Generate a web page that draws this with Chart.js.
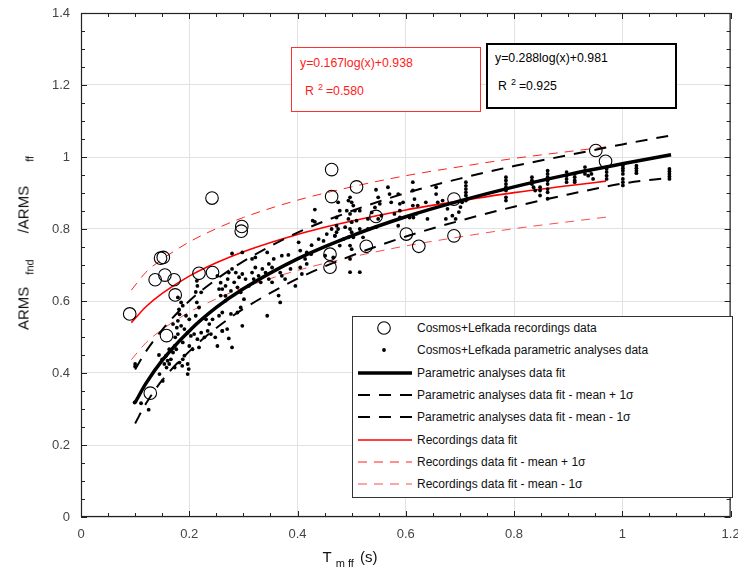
<!DOCTYPE html>
<html>
<head>
<meta charset="utf-8">
<title>ARMS fnd / ARMS ff vs T mff</title>
<script src="https://cdn.jsdelivr.net/npm/chart.js@4.4.0/dist/chart.umd.min.js"></script>
<style>
  body { margin: 0; background: #fff; font-family: "Liberation Sans", Arial, sans-serif; }
  #wrap { position: relative; width: 738px; height: 573px; }
  #chart { position: absolute; left: 0; top: 0; }
  .note { position: absolute; font-size: 12.3px; line-height: 14px; background: #fff; }
  .note div { position: absolute; white-space: nowrap; }
  .note sup { font-size: 9px; vertical-align: 5px; margin: 0 3px 0 4px; }
  #redNote { left: 291px; top: 47px; width: 188px; height: 63px; border: 1px solid #ff3030; color: #ff1a1a; }
  #blackNote { left: 486px; top: 43px; width: 187px; height: 62px; border: 2px solid #000; color: #000; }
  #legend { position: absolute; left: 352px; top: 316px; width: 379px; height: 180px; border: 1px solid #333;
            background: #fff; font-size: 12px; color: #111; }
  #legend .row { position: absolute; left: 0; height: 22px; width: 375px; }
  #legend svg { position: absolute; left: 4px; top: 0; }
  #legend span { position: absolute; left: 64px; top: 4px; white-space: nowrap; }
  .axtitle { position: absolute; white-space: nowrap; font-size: 15px; color: #111; }
  .axtitle sub { font-size: 11px; vertical-align: -5px; }
</style>
</head>
<body>
<div id="wrap">
  <canvas id="chart" width="738" height="573"></canvas>

  <div id="redNote" class="note">
    <div style="left:8px; top:8px;">y=0.167log(x)+0.938</div>
    <div style="left:13px; top:32px;">R<sup>2</sup>=0.580</div>
  </div>
  <div id="blackNote" class="note">
    <div style="left:7px; top:6px;">y=0.288log(x)+0.981</div>
    <div style="left:10px; top:30px;">R<sup>2</sup>=0.925</div>
  </div>

  <div id="legend"></div>

  <div class="axtitle" style="left:25px; top:243px; transform: translate(-50%,-50%) rotate(-90deg);">ARMS<sub style="margin:0 26px 0 12px">fnd</sub>/ARMS<sub style="margin-left:24px">ff</sub></div>
  <div class="axtitle" style="left:350px; top:548px; transform: translateX(-50%);">T<sub style="margin:0 6px 0 4px">m ff</sub>(s)</div>
</div>

<script>
// recordings (open circles): [T mff, ARMS ratio]
const recordings = [
  [0.090, 0.564], [0.128, 0.344], [0.137, 0.659], [0.147, 0.719], [0.152, 0.721],
  [0.155, 0.672], [0.172, 0.659], [0.174, 0.617], [0.158, 0.504], [0.242, 0.886],
  [0.218, 0.677], [0.243, 0.679], [0.297, 0.807], [0.296, 0.794], [0.463, 0.965],
  [0.509, 0.917], [0.463, 0.890], [0.545, 0.835], [0.460, 0.730], [0.460, 0.694],
  [0.527, 0.752], [0.601, 0.786], [0.624, 0.752], [0.689, 0.883], [0.689, 0.781],
  [0.951, 1.018], [0.969, 0.988]
];

// parametric analyses (small dots): [T mff, ARMS ratio]
const parametric = [
  [0.100, 0.425], [0.100, 0.418], [0.099, 0.318], [0.111, 0.316], [0.125, 0.298],
  [0.144, 0.450], [0.150, 0.438], [0.157, 0.448], [0.160, 0.434], [0.163, 0.425],
  [0.154, 0.425], [0.158, 0.415], [0.166, 0.438], [0.170, 0.457], [0.163, 0.466],
  [0.173, 0.475], [0.176, 0.466], [0.182, 0.429], [0.188, 0.438], [0.191, 0.448],
  [0.197, 0.425], [0.199, 0.411], [0.197, 0.397], [0.187, 0.420], [0.173, 0.415],
  [0.174, 0.499], [0.179, 0.508], [0.177, 0.526], [0.170, 0.536], [0.179, 0.545],
  [0.185, 0.531], [0.191, 0.522], [0.197, 0.512], [0.203, 0.503], [0.209, 0.508],
  [0.215, 0.494], [0.222, 0.512], [0.228, 0.499], [0.234, 0.517], [0.240, 0.508],
  [0.248, 0.499], [0.252, 0.475], [0.200, 0.475], [0.206, 0.466], [0.218, 0.471],
  [0.188, 0.485], [0.182, 0.563], [0.181, 0.577], [0.185, 0.596], [0.179, 0.610],
  [0.188, 0.587], [0.194, 0.559], [0.200, 0.549], [0.212, 0.559], [0.218, 0.582],
  [0.214, 0.596], [0.212, 0.625], [0.222, 0.624], [0.215, 0.642], [0.214, 0.656],
  [0.231, 0.549], [0.237, 0.536], [0.243, 0.549], [0.255, 0.559], [0.261, 0.517],
  [0.255, 0.633], [0.258, 0.651], [0.267, 0.614], [0.271, 0.661], [0.252, 0.670],
  [0.145, 0.397], [0.151, 0.378],
  [0.432, 0.854], [0.428, 0.823], [0.432, 0.820], [0.279, 0.732], [0.298, 0.735],
  [0.316, 0.717], [0.322, 0.721], [0.344, 0.735], [0.356, 0.717], [0.371, 0.726],
  [0.383, 0.728], [0.402, 0.763], [0.405, 0.740], [0.417, 0.735], [0.426, 0.755],
  [0.439, 0.772], [0.448, 0.767], [0.454, 0.786], [0.472, 0.791], [0.405, 0.693],
  [0.414, 0.717], [0.417, 0.703], [0.408, 0.675], [0.396, 0.642], [0.368, 0.679],
  [0.371, 0.670], [0.365, 0.615], [0.368, 0.596], [0.344, 0.559], [0.347, 0.661],
  [0.353, 0.652], [0.335, 0.689], [0.328, 0.670], [0.332, 0.652], [0.316, 0.679],
  [0.319, 0.661], [0.310, 0.642], [0.304, 0.661], [0.298, 0.675], [0.292, 0.666],
  [0.286, 0.679], [0.279, 0.689], [0.273, 0.679], [0.283, 0.652], [0.289, 0.638],
  [0.295, 0.624], [0.301, 0.605], [0.277, 0.628], [0.267, 0.642], [0.261, 0.633],
  [0.258, 0.615], [0.267, 0.601], [0.261, 0.568], [0.277, 0.564], [0.289, 0.568],
  [0.295, 0.582], [0.298, 0.531], [0.270, 0.522], [0.261, 0.517], [0.273, 0.496],
  [0.279, 0.471], [0.341, 0.679], [0.347, 0.703], [0.353, 0.693], [0.322, 0.693],
  [0.387, 0.689], [0.377, 0.661], [0.451, 0.726], [0.466, 0.721], [0.469, 0.781],
  [0.425, 0.730],
  [0.497, 0.888], [0.494, 0.879], [0.500, 0.874], [0.503, 0.865], [0.491, 0.851],
  [0.497, 0.842], [0.506, 0.851], [0.515, 0.851], [0.494, 0.828], [0.500, 0.819],
  [0.488, 0.805], [0.472, 0.809], [0.475, 0.800], [0.497, 0.800], [0.500, 0.791],
  [0.503, 0.777], [0.494, 0.777], [0.485, 0.772], [0.478, 0.754], [0.497, 0.754],
  [0.500, 0.744], [0.509, 0.823], [0.497, 0.717], [0.497, 0.680], [0.515, 0.680],
  [0.545, 0.909], [0.549, 0.888], [0.552, 0.870], [0.543, 0.860], [0.537, 0.846],
  [0.530, 0.828], [0.549, 0.828], [0.555, 0.837], [0.530, 0.800], [0.545, 0.805],
  [0.567, 0.916], [0.570, 0.897], [0.573, 0.874], [0.586, 0.897], [0.589, 0.870],
  [0.595, 0.874], [0.589, 0.851], [0.579, 0.842], [0.589, 0.832], [0.607, 0.832],
  [0.613, 0.930], [0.613, 0.907], [0.616, 0.883], [0.613, 0.865], [0.622, 0.865],
  [0.619, 0.842], [0.614, 0.832], [0.586, 0.809], [0.637, 0.874], [0.640, 0.828],
  [0.656, 0.916], [0.656, 0.897], [0.659, 0.874], [0.668, 0.879], [0.674, 0.828],
  [0.677, 0.856], [0.686, 0.837], [0.692, 0.828], [0.475, 0.874], [0.478, 0.851],
  [0.472, 0.832], [0.463, 0.800], [0.469, 0.781], [0.515, 0.800], [0.521, 0.777],
  [0.711, 0.930], [0.711, 0.920], [0.711, 0.911], [0.711, 0.902], [0.711, 0.893],
  [0.711, 0.879], [0.704, 0.874], [0.701, 0.861], [0.698, 0.847], [0.714, 0.884],
  [0.785, 0.944], [0.785, 0.935], [0.785, 0.925], [0.785, 0.916], [0.785, 0.907],
  [0.785, 0.888], [0.785, 0.879],
  [0.833, 0.944], [0.833, 0.935], [0.833, 0.930], [0.833, 0.925], [0.836, 0.916],
  [0.839, 0.907], [0.848, 0.916], [0.848, 0.907], [0.848, 0.893],
  [0.862, 0.962], [0.862, 0.953], [0.862, 0.944], [0.862, 0.935], [0.862, 0.925],
  [0.862, 0.911], [0.862, 0.902], [0.862, 0.884],
  [0.897, 0.958], [0.897, 0.948], [0.897, 0.939], [0.897, 0.930],
  [0.912, 0.953], [0.912, 0.944], [0.912, 0.935], [0.912, 0.930],
  [0.931, 0.972], [0.931, 0.962], [0.931, 0.953],
  [0.940, 0.962], [0.943, 0.953], [0.946, 0.939], [0.937, 0.948],
  [0.971, 0.967], [0.971, 0.958], [0.971, 0.948], [0.971, 0.939],
  [1.001, 0.976], [1.001, 0.969], [1.001, 0.962], [1.001, 0.953], [1.001, 0.939],
  [1.001, 0.930], [1.001, 0.921],
  [1.026, 0.976], [1.026, 0.969], [1.026, 0.962], [1.026, 0.955],
  [1.087, 0.967], [1.087, 0.960], [1.087, 0.953], [1.087, 0.946], [1.087, 0.939]
];

// parametric fit curves, read at these periods
const parT    = [0.10, 0.12, 0.15, 0.20, 0.25, 0.30, 0.40, 0.50, 0.60, 0.70, 0.80, 0.90, 1.00, 1.09];
const parFit  = [0.318, 0.371, 0.435, 0.517, 0.582, 0.634, 0.717, 0.781, 0.834, 0.878, 0.917, 0.951, 0.981, 1.006];
const parUp   = [0.410, 0.460, 0.520, 0.600, 0.660, 0.710, 0.790, 0.850, 0.900, 0.940, 0.975, 1.005, 1.035, 1.060];
const parLow  = [0.260, 0.315, 0.380, 0.460, 0.525, 0.578, 0.662, 0.726, 0.779, 0.823, 0.862, 0.896, 0.926, 0.943];

// recordings fit curves
const recT    = [0.093, 0.12, 0.15, 0.20, 0.25, 0.30, 0.40, 0.50, 0.60, 0.70, 0.80, 0.90, 0.97];
const recFit  = [0.540, 0.584, 0.621, 0.669, 0.706, 0.737, 0.785, 0.822, 0.853, 0.878, 0.901, 0.920, 0.933];
const recUp   = [0.630, 0.680, 0.716, 0.764, 0.801, 0.832, 0.880, 0.917, 0.948, 0.973, 0.996, 1.015, 1.028];
const recLow  = [0.437, 0.484, 0.521, 0.569, 0.606, 0.637, 0.685, 0.722, 0.753, 0.778, 0.801, 0.820, 0.833];

const xTicks = [0, 0.2, 0.4, 0.6, 0.8, 1, 1.2];
const yTicks = [0, 0.2, 0.4, 0.6, 0.8, 1, 1.2, 1.4];

function pts(arr) { return arr.map(p => ({ x: p[0], y: p[1] })); }
function curve(t, v) { return t.map((x, i) => ({ x: x, y: v[i] })); }

function lineSet(label, t, v, color, width, dash, order) {
  return {
    label: label, data: curve(t, v), showLine: true, borderColor: color, borderWidth: width,
    borderDash: dash, pointRadius: 0, fill: false, cubicInterpolationMode: 'monotone', order: order
  };
}

// frame + inward ticks on all four sides
const frameTicks = {
  id: 'frameTicks',
  afterDraw(chart) {
    const ctx = chart.ctx, a = chart.chartArea;
    const sx = chart.scales.x, sy = chart.scales.y;
    ctx.save();
    ctx.strokeStyle = '#222';
    ctx.lineWidth = 1;
    ctx.beginPath();
    for (let i = 0; i <= 24; i++) {
      const px = Math.round(sx.getPixelForValue(i * 0.05)) + 0.5;
      const len = i % 4 === 0 ? 6 : 4;
      ctx.moveTo(px, a.bottom); ctx.lineTo(px, a.bottom - len);
      ctx.moveTo(px, a.top); ctx.lineTo(px, a.top + len);
    }
    for (let i = 0; i <= 28; i++) {
      const py = Math.round(sy.getPixelForValue(i * 0.05)) + 0.5;
      const len = i % 4 === 0 ? 6 : 4;
      ctx.moveTo(a.left, py); ctx.lineTo(a.left + len, py);
      ctx.moveTo(a.right, py); ctx.lineTo(a.right - len, py);
    }
    ctx.stroke();
    ctx.lineWidth = 1.2;
    ctx.strokeRect(a.left + 0.5, a.top + 0.5, a.right - a.left - 1, a.bottom - a.top - 1);
    ctx.restore();
  }
};

const chart = new Chart(document.getElementById('chart'), {
  type: 'scatter',
  data: {
    datasets: [
      { label: 'Cosmos+Lefkada recordings data', data: pts(recordings), pointRadius: 6.3, pointBorderWidth: 1.1,
        borderColor: '#000', backgroundColor: 'rgba(0,0,0,0)', pointStyle: 'circle', order: 0 },
      { label: 'Cosmos+Lefkada parametric analyses data', data: pts(parametric), pointRadius: 1.9, pointBorderWidth: 0,
        borderColor: '#000', backgroundColor: '#000', order: 1 },
      lineSet('Parametric analyses data fit', parT, parFit, '#000', 3.5, [], 2),
      lineSet('Parametric analyses data fit - mean + 1\u03c3', parT, parUp, '#000', 2, [12, 9], 3),
      lineSet('Parametric analyses data fit - mean - 1\u03c3', parT, parLow, '#000', 2, [12, 9], 4),
      lineSet('Recordings data fit', recT, recFit, '#ff0000', 1.6, [], 5),
      lineSet('Recordings data fit - mean + 1\u03c3', recT, recUp, '#ff2020', 1, [9, 7], 6),
      lineSet('Recordings data fit - mean - 1\u03c3', recT, recLow, '#ff4a4a', 1, [9, 7], 7)
    ]
  },
  options: {
    responsive: false,
    animation: false,
    layout: { padding: { top: 13, right: 3, left: 0, bottom: 0 } },
    plugins: { legend: { display: false }, tooltip: { enabled: false } },
    scales: {
      x: {
        type: 'linear', min: 0, max: 1.2,
        afterBuildTicks: s => { s.ticks = xTicks.map(v => ({ value: v })); },
        afterFit: s => { s.height = 56; s.paddingLeft = 0; s.paddingRight = 0; },
        grid: { color: '#e2e2e2', lineWidth: 1, drawTicks: false },
        border: { display: false },
        ticks: { padding: 10, color: '#444', font: { family: 'Liberation Sans', size: 13 },
                 callback: v => String(+v.toFixed(1)) }
      },
      y: {
        type: 'linear', min: 0, max: 1.4,
        afterBuildTicks: s => { s.ticks = yTicks.map(v => ({ value: v })); },
        afterFit: s => { s.width = 81; s.paddingTop = 0; s.paddingBottom = 0; },
        grid: { color: '#e2e2e2', lineWidth: 1, drawTicks: false },
        border: { display: false },
        ticks: { padding: 11, color: '#444', font: { family: 'Liberation Sans', size: 13 },
                 callback: v => String(+v.toFixed(1)) }
      }
    }
  },
  plugins: [frameTicks]
});

// legend drawn in html from the dataset styles
const legend = document.getElementById('legend');
const NS = 'http://www.w3.org/2000/svg';
chart.data.datasets.forEach((ds, i) => {
  const row = document.createElement('div');
  row.className = 'row';
  row.style.top = (i * 22.3) + 'px';
  const svg = document.createElementNS(NS, 'svg');
  svg.setAttribute('width', '56'); svg.setAttribute('height', '22');
  if (ds.showLine) {
    const ln = document.createElementNS(NS, 'line');
    ln.setAttribute('x1', '1'); ln.setAttribute('x2', '55');
    ln.setAttribute('y1', '11'); ln.setAttribute('y2', '11');
    ln.setAttribute('stroke', ds.borderColor);
    ln.setAttribute('stroke-width', ds.borderWidth);
    if (ds.borderDash.length) ln.setAttribute('stroke-dasharray', ds.borderDash.join(' '));
    svg.appendChild(ln);
  } else {
    const c = document.createElementNS(NS, 'circle');
    c.setAttribute('cx', '27'); c.setAttribute('cy', '11');
    c.setAttribute('r', ds.pointRadius);
    c.setAttribute('fill', ds.backgroundColor);
    c.setAttribute('stroke', ds.borderColor);
    c.setAttribute('stroke-width', ds.pointBorderWidth || 0);
    svg.appendChild(c);
  }
  const txt = document.createElement('span');
  txt.textContent = ds.label;
  row.appendChild(svg);
  row.appendChild(txt);
  legend.appendChild(row);
});
</script>
</body>
</html>
